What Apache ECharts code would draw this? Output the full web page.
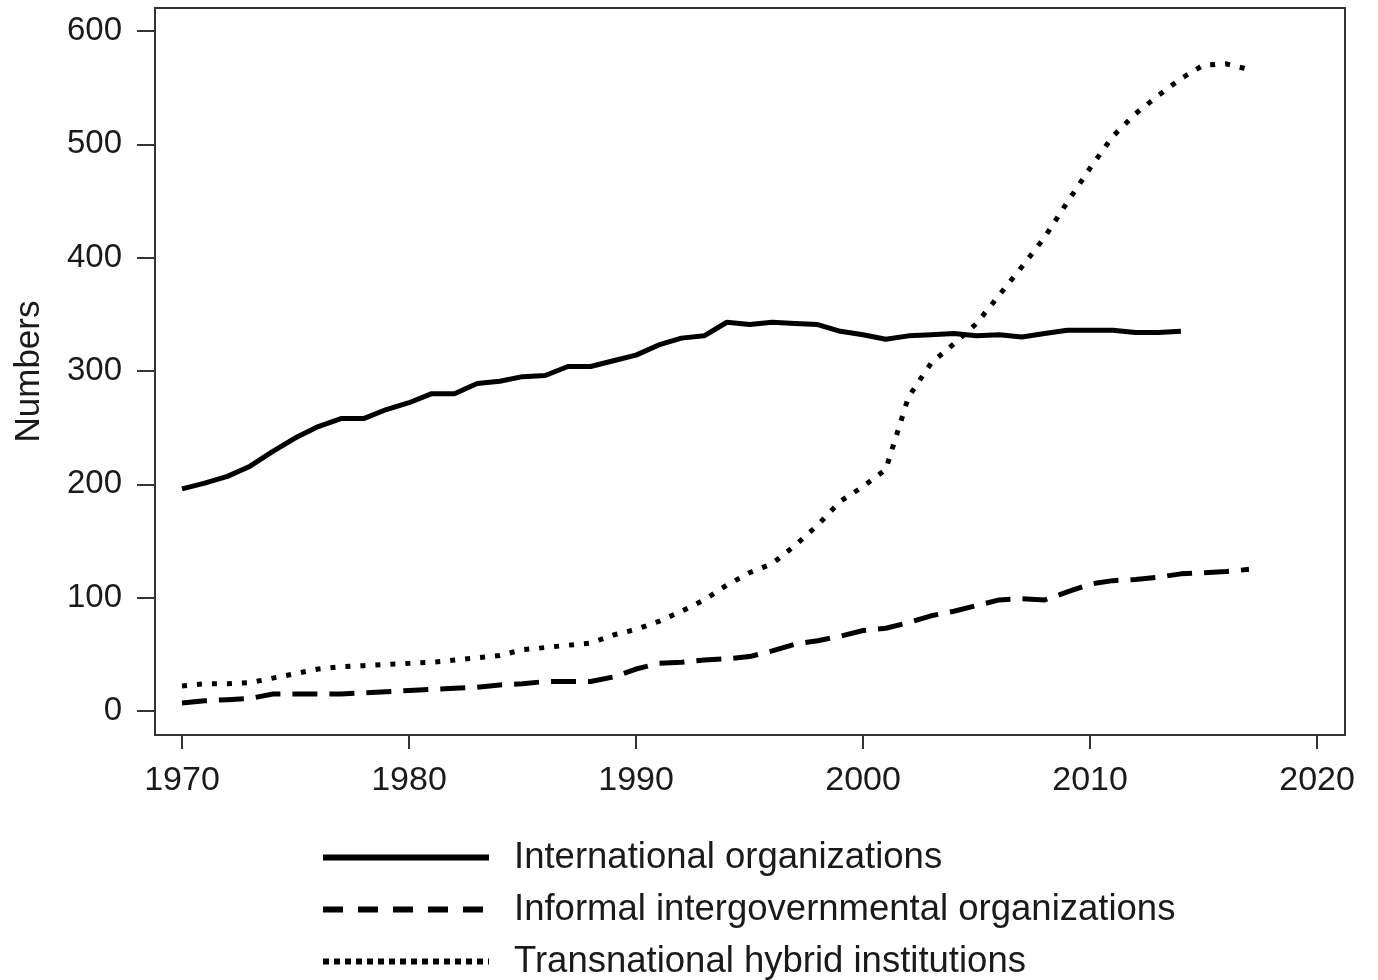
<!DOCTYPE html>
<html>
<head>
<meta charset="utf-8">
<script src="https://cdn.jsdelivr.net/npm/echarts@6/dist/echarts.min.js"></script>
<style>
  html, body { margin: 0; padding: 0; background: #fff; }
  #chart { width: 1378px; height: 980px; }
</style>
</head>
<body>
<div id="chart"></div>
<script>
// years on the x axis
const years = [1970,1971,1972,1973,1974,1975,1976,1977,1978,1979,
               1980,1981,1982,1983,1984,1985,1986,1987,1988,1989,
               1990,1991,1992,1993,1994,1995,1996,1997,1998,1999,
               2000,2001,2002,2003,2004,2005,2006,2007,2008,2009,
               2010,2011,2012,2013,2014,2015,2016,2017];

// International organizations (stops at 2014)
const intlOrgs = [196,201,207,216,229,241,251,258,258,266,
                  272,280,280,289,291,295,296,304,304,309,
                  314,323,329,331,343,341,343,342,341,335,
                  332,328,331,332,333,331,332,330,333,336,
                  336,336,334,334,335];

// Informal intergovernmental organizations
const informalIGOs = [7,9,10,11,15,15,15,15,16,17,
                      18,19,20,21,23,24,26,26,26,30,
                      37,42,43,45,46,48,53,59,62,66,
                      71,73,78,84,88,93,98,99,98,105,
                      112,115,116,118,121,122,123,125];

// Transnational hybrid institutions
const hybridInst = [22,24,24,25,29,33,37,39,40,41,
                    42,43,45,47,49,54,56,58,60,67,
                    72,79,88,98,111,122,130,146,164,185,
                    198,213,277,307,324,342,367,392,418,449,
                    479,507,527,543,558,570,571,566];

const seriesNames = ['International organizations',
                     'Informal intergovernmental organizations',
                     'Transnational hybrid institutions'];

const xTicks = [1970, 1980, 1990, 2000, 2010, 2020];
const yTicks = [0, 100, 200, 300, 400, 500, 600];

function pairs(vals) {
  return vals.map((v, i) => [years[i], v]);
}

const chart = echarts.init(document.getElementById('chart'));
const font = 'Liberation Sans, Arial, sans-serif';

chart.setOption({
  animation: false,
  backgroundColor: '#fff',
  grid: {
    left: 155, right: 33, top: 8, bottom: 245,
    show: true,
    borderColor: '#333',
    borderWidth: 2,
    backgroundColor: 'transparent'
  },
  xAxis: {
    type: 'value',
    min: 1968.81,
    max: 2021.23,
    splitLine: { show: false },
    axisLine: { show: false, onZero: false },
    axisTick: {
      show: true, inside: false, length: 14,
      customValues: xTicks,
      lineStyle: { color: '#333', width: 2 }
    },
    axisLabel: {
      customValues: xTicks,
      formatter: v => String(v),
      margin: 29,
      fontSize: 34,
      fontFamily: font,
      color: '#1a1a1a'
    }
  },
  yAxis: {
    type: 'value',
    min: -21.2,
    max: 620.3,
    name: 'Numbers',
    nameLocation: 'middle',
    nameGap: 108,
    nameRotate: 90,
    nameTextStyle: { fontSize: 35, fontFamily: font, color: '#1a1a1a' },
    splitLine: { show: false },
    axisLine: { show: false, onZero: false },
    axisTick: {
      show: true, inside: false, length: 18,
      customValues: yTicks,
      lineStyle: { color: '#333', width: 2 }
    },
    axisLabel: {
      customValues: yTicks,
      margin: 33,
      fontSize: 33,
      fontFamily: font,
      color: '#1a1a1a'
    }
  },
  legend: {
    orient: 'vertical',
    left: 320,
    top: 839,
    height: 170,
    padding: 0,
    itemWidth: 166,
    itemHeight: 14,
    itemGap: 15,
    itemStyle: { color: 'rgba(0,0,0,0)', opacity: 0, borderWidth: 0 },
    textStyle: { fontSize: 36.5, fontFamily: font, color: '#1a1a1a', padding: [0, 0, 0, 20] },
    data: [
      { name: seriesNames[0], lineStyle: { width: 6, type: 'solid', color: '#000' } },
      { name: seriesNames[1], lineStyle: { width: 6, type: [20, 15], cap: 'butt', color: '#000' } },
      { name: seriesNames[2], lineStyle: { width: 6, type: [6, 5], cap: 'butt', color: '#000' } }
    ]
  },
  series: [
    {
      name: seriesNames[0],
      type: 'line',
      data: pairs(intlOrgs),
      symbol: 'none',
      lineStyle: { color: '#000', width: 5, type: 'solid' },
      itemStyle: { color: '#000' }
    },
    {
      name: seriesNames[1],
      type: 'line',
      data: pairs(informalIGOs),
      symbol: 'none',
      lineStyle: { color: '#000', width: 5, type: [25, 12], cap: 'butt' },
      itemStyle: { color: '#000' }
    },
    {
      name: seriesNames[2],
      type: 'line',
      data: pairs(hybridInst),
      symbol: 'none',
      lineStyle: { color: '#000', width: 5, type: [5, 10], cap: 'butt' },
      itemStyle: { color: '#000' }
    }
  ]
});
</script>
</body>
</html>
